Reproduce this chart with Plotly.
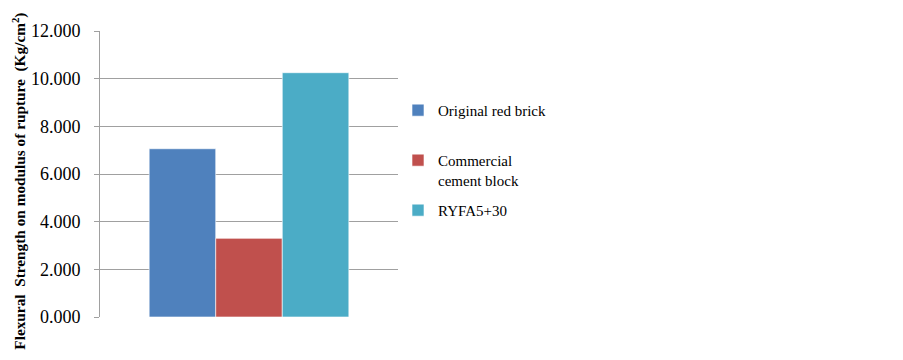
import plotly.graph_objects as go

categories = [""]
series_names = ["Original red brick<br> ", "Commercial<br>cement block", "RYFA5+30"]
series_values = [[7.06], [3.30], [10.25]]
colors = ["#4F81BD", "#C0504D", "#4BACC6"]
tick_vals = [0, 2, 4, 6, 8, 10, 12]
y_title = "<b>Flexural  Strength on modulus of rupture  (Kg/cm<sup>2</sup>)</b>"

fig = go.Figure()
for i, (name, vals, col) in enumerate(zip(series_names, series_values, colors)):
    fig.add_trace(go.Bar(
        x=categories, y=vals, name=name, legendgroup=f"g{i}",
        marker=dict(color=col, line=dict(color="rgba(255,255,255,0.6)", width=1)),
    ))

font_family = "Liberation Serif, Times New Roman, serif"
fig.update_layout(
    width=903, height=360,
    margin=dict(l=92, r=513, t=23, b=51, autoexpand=False),
    paper_bgcolor="white", plot_bgcolor="white",
    barmode="group", bargap=0.33, bargroupgap=0,
    font=dict(family=font_family, color="black"),
    showlegend=True,
    legend=dict(x=1.0, y=0.78, xanchor="left", yanchor="top",
                font=dict(family=font_family, size=15, color="black"),
                valign="top", tracegroupgap=8, itemwidth=30,
                bgcolor="rgba(0,0,0,0)"),
    xaxis=dict(showticklabels=False, showgrid=False, zeroline=False,
               showline=False, ticks="", automargin=False),
    yaxis=dict(range=[0, 12], tickvals=tick_vals, tickformat=".3f",
               automargin=False,
               showgrid=True, gridcolor="#A0A0A0", gridwidth=1,
               showline=True, linecolor="#A0A0A0", linewidth=1,
               ticks="outside", ticklen=5, tickcolor="#A0A0A0",
               ticklabelstandoff=10,
               zeroline=False,
               tickfont=dict(family=font_family, size=18, color="black")),
    annotations=[dict(text=y_title, textangle=-90, xref="paper", yref="paper",
                      x=-0.271, y=0.474, xanchor="center", yanchor="middle",
                      showarrow=False,
                      font=dict(family=font_family, size=15.3, color="black"))],
)
fig.write_html("out.html")
